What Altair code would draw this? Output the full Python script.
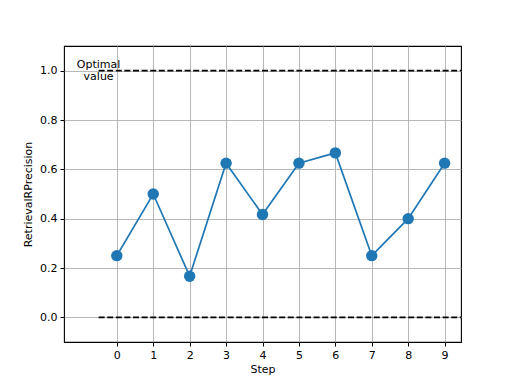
import altair as alt
import pandas as pd

steps = [0, 1, 2, 3, 4, 5, 6, 7, 8, 9]
precision = [0.25, 0.5, 0.1667, 0.625, 0.4167, 0.625, 0.6667, 0.25, 0.4, 0.625]
ref_levels = [1.0, 0.0]
ref_x_start = -0.5
ref_x_end = 9.5
x_ticks = [0, 1, 2, 3, 4, 5, 6, 7, 8, 9]
y_ticks = [0.0, 0.2, 0.4, 0.6, 0.8, 1.0]

df = pd.DataFrame({"Step": steps, "RetrievalRPrecision": precision})
ref = pd.DataFrame({"x": [ref_x_start] * 2, "x2": [ref_x_end] * 2, "y": ref_levels})
lab = pd.DataFrame({"x": [-0.5], "y": [1.0], "t": [["Optimal", "value"]]})

xs = alt.Scale(domain=[-1.45, 9.45], nice=False, zero=False)
ys = alt.Scale(domain=[-0.1, 1.1], nice=False, zero=False)

xax = alt.Axis(values=x_ticks, title="Step", grid=True, gridColor="#b0b0b0", gridWidth=0.9,
               domain=False, tickColor="black", tickSize=4, labelFontSize=11, titleFontSize=11,
               labelColor="black", titleColor="black", titleFontWeight="normal", labelPadding=3,
               titlePadding=3, labelFont="DejaVu Sans", titleFont="DejaVu Sans", format="d")
yax = alt.Axis(values=y_ticks, title="RetrievalRPrecision", grid=True, gridColor="#b0b0b0", gridWidth=0.9,
               domain=False, tickColor="black", tickSize=4, labelFontSize=11, titleFontSize=11,
               labelColor="black", titleColor="black", titleFontWeight="normal", labelPadding=3,
               titlePadding=6, labelFont="DejaVu Sans", titleFont="DejaVu Sans", format=".1f")

base = alt.Chart(df)
line = base.mark_line(color="#1f77b4", strokeWidth=1.7).encode(
    x=alt.X("Step:Q", scale=xs, axis=xax),
    y=alt.Y("RetrievalRPrecision:Q", scale=ys, axis=yax),
)
pts = base.mark_circle(color="#1f77b4", size=130, opacity=1).encode(
    x=alt.X("Step:Q", scale=xs), y=alt.Y("RetrievalRPrecision:Q", scale=ys)
)
rules = alt.Chart(ref).mark_rule(color="black", strokeWidth=1.7, strokeDash=[6, 2.6], clip=True).encode(
    x=alt.X("x:Q", scale=xs), x2="x2:Q", y=alt.Y("y:Q", scale=ys)
)
text = alt.Chart(lab).mark_text(fontSize=11, font="DejaVu Sans", color="black", align="center",
                                baseline="middle", lineHeight=12, dy=-6).encode(
    x=alt.X("x:Q", scale=xs), y=alt.Y("y:Q", scale=ys), text="t"
)

chart = alt.layer(text, rules, line, pts).properties(
    width=397, height=296,
    autosize=alt.AutoSizeParams(type="none"),
    padding={"left": 56, "top": 38, "right": 40, "bottom": 40},
).configure_view(stroke="black", strokeWidth=1.1)

chart.save("out.html", embed_options={"renderer": "svg", "actions": False})
